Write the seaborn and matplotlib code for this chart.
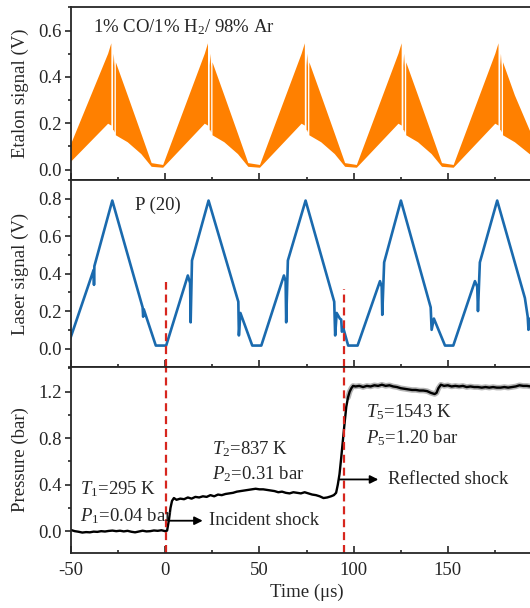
import numpy as np
import seaborn as sns
import matplotlib.pyplot as plt
from matplotlib.ticker import MultipleLocator

# etalon signal envelope (upper / lower edge of the fringe band), nan = white gap
etalon_t = [-50.5, -30.3, -28.6, np.nan, -27.7, -27.3, -26.9, np.nan,
            -26.2, -19.9, -12.7, -7.2, -1.1,
            21.0, 22.7, np.nan, 23.6, 24.0, 24.4, np.nan,
            25.1, 31.4, 38.6, 44.1, 50.3,
            72.4, 74.1, np.nan, 75.0, 75.4, 75.8, np.nan,
            76.5, 82.8, 90.0, 95.5, 101.7,
            123.8, 125.5, np.nan, 126.4, 126.8, 127.2, np.nan,
            127.9, 134.2, 141.4, 146.9, 153.1,
            175.2, 176.9, np.nan, 177.8, 178.2, 178.6, np.nan,
            179.3, 185.6, 194.5]
etalon_hi = [0.10, 0.50, 0.545, np.nan, 0.45, 0.50, 0.44, np.nan,
             0.463, 0.32, 0.155, 0.028, 0.02,
             0.50, 0.545, np.nan, 0.45, 0.50, 0.44, np.nan,
             0.463, 0.32, 0.155, 0.028, 0.02,
             0.50, 0.545, np.nan, 0.45, 0.50, 0.44, np.nan,
             0.463, 0.32, 0.155, 0.028, 0.02,
             0.50, 0.545, np.nan, 0.45, 0.50, 0.44, np.nan,
             0.463, 0.32, 0.155, 0.028, 0.02,
             0.50, 0.545, np.nan, 0.45, 0.50, 0.44, np.nan,
             0.463, 0.32, 0.15]
etalon_lo = [0.03, 0.198, 0.19, np.nan, 0.17, 0.17, 0.16, np.nan,
             0.148, 0.118, 0.067, 0.012, 0.008,
             0.198, 0.19, np.nan, 0.17, 0.17, 0.16, np.nan,
             0.148, 0.118, 0.067, 0.012, 0.008,
             0.198, 0.19, np.nan, 0.17, 0.17, 0.16, np.nan,
             0.148, 0.118, 0.067, 0.012, 0.008,
             0.198, 0.19, np.nan, 0.17, 0.17, 0.16, np.nan,
             0.148, 0.118, 0.067, 0.012, 0.008,
             0.198, 0.19, np.nan, 0.17, 0.17, 0.16, np.nan,
             0.148, 0.118, 0.06]

# laser signal P(20)
laser_t = [-50.5, -38.0, -37.8, -37.6, -28.1, -12.0, -11.7, -11.4, -5.0, 0.5,
           12.0, 13.2, 13.5, 14.2, 23.0, 38.8, 39.1, 39.9, 46.2, 51.0,
           63.0, 63.9, 64.2, 65.1, 74.5, 89.7, 90.2, 91.0, 92.7, 93.4, 93.8, 94.5, 97.1, 102.1,
           114.0, 114.9, 115.2, 116.2, 125.1, 140.9, 141.4, 142.6, 148.5, 152.9,
           164.4, 165.6, 166.0, 167.0, 176.2, 190.9, 192.4, 192.8, 193.6, 195.0]
laser_v = [0.05, 0.42, 0.34, 0.44, 0.79, 0.22, 0.17, 0.21, 0.016, 0.016,
           0.39, 0.35, 0.14, 0.47, 0.79, 0.25, 0.07, 0.19, 0.016, 0.016,
           0.39, 0.36, 0.14, 0.47, 0.79, 0.25, 0.07, 0.19, 0.16, 0.155, 0.09, 0.11, 0.016, 0.016,
           0.36, 0.33, 0.18, 0.46, 0.79, 0.22, 0.10, 0.16, 0.016, 0.016,
           0.36, 0.33, 0.20, 0.46, 0.79, 0.27, 0.17, 0.10, 0.16, 0.14]

# pressure trace
pressure_t = [-50, -48, -46, -44, -42, -40, -38, -36, -34, -32, -30, -28, -26, -24, -22,
              -20, -18, -16, -14, -12, -10, -8, -6, -4, -2, 0, 1,
              2.0, 2.8, 3.6, 4.6, 6, 8, 10, 12, 14, 16, 18, 20, 22, 24, 26, 28, 30,
              32, 34, 36, 38, 40, 42, 44, 46, 48, 50, 52, 54, 56, 58, 60, 62, 64,
              66, 68, 70, 72, 74, 76, 78, 80, 82, 84, 86, 88, 89.5, 90.7, 91.6,
              92.5, 93.4, 94.3, 95.2, 96.1, 97.0, 97.9, 98.8, 99.7,
              101, 103, 105, 107, 109, 111, 113, 115, 117, 119, 121, 123, 125, 127,
              129, 131, 133, 135, 137, 139, 141, 143, 144, 145, 146.3, 148, 150, 152,
              154, 156, 158, 160, 162, 164, 166, 168, 170, 172, 174, 176, 178, 180,
              182, 184, 186, 188, 190, 192, 194]
pressure_p = [0.01, 0.0, -0.005, -0.012, -0.008, -0.01, -0.004, -0.006, 0.0, -0.003, 0.002,
              0.005, 0.0, 0.004, -0.002, 0.003, -0.005, -0.01, -0.003, 0.004, -0.002, 0.0,
              0.006, 0.003, 0.008, 0.0, 0.005,
              0.10, 0.20, 0.26, 0.285, 0.27, 0.28, 0.275, 0.29, 0.28, 0.295, 0.29, 0.30,
              0.295, 0.31, 0.30, 0.315, 0.31, 0.32, 0.325, 0.33, 0.34, 0.345, 0.35, 0.355,
              0.36, 0.365, 0.36, 0.36, 0.355, 0.35, 0.345, 0.335, 0.34, 0.33, 0.325, 0.335,
              0.33, 0.325, 0.335, 0.325, 0.315, 0.31, 0.30, 0.285, 0.29, 0.30, 0.31, 0.33,
              0.40, 0.49, 0.63, 0.78, 0.93, 1.07, 1.15, 1.20, 1.23, 1.25,
              1.245, 1.25, 1.24, 1.25, 1.245, 1.255, 1.25, 1.26, 1.25, 1.255, 1.245, 1.24,
              1.23, 1.225, 1.22, 1.215, 1.215, 1.21, 1.21, 1.205, 1.19, 1.18, 1.19, 1.23,
              1.26, 1.25, 1.255, 1.245, 1.25, 1.245, 1.25, 1.24, 1.245, 1.24, 1.24, 1.235,
              1.24, 1.235, 1.24, 1.235, 1.235, 1.24, 1.235, 1.24, 1.245, 1.255, 1.25,
              1.25, 1.245]

time_ticks = [-50, 0, 50, 100, 150]
shock_t = [0.6, 94.8]        # dashed markers (incident / reflected)
shock_top = [0.353, 0.317]   # where they start in the laser panel

sns.set_style('ticks')
plt.rcParams['font.family'] = ['Liberation Serif', 'DejaVu Serif']
plt.rcParams['mathtext.fontset'] = 'custom'
plt.rcParams['mathtext.rm'] = 'Liberation Serif'
plt.rcParams['mathtext.it'] = 'Liberation Serif:italic'
plt.rcParams['axes.unicode_minus'] = False
plt.rcParams['font.size'] = 13.5

fig = plt.figure(figsize=(5.3, 6.08), dpi=100)
ax1 = fig.add_axes([0.134, 0.7039, 0.8887, 0.2840])
ax2 = fig.add_axes([0.134, 0.3959, 0.8887, 0.3081])
ax3 = fig.add_axes([0.134, 0.0910, 0.8887, 0.3049])

orange = '#ff8000'
blue = '#1a6aae'
red = '#d7261e'

ax1.fill_between(etalon_t, etalon_lo, etalon_hi, color=orange, lw=0)
sns.lineplot(x=laser_t, y=laser_v, ax=ax2, color=blue, lw=1.9, sort=False, estimator=None)

t_arr = np.array(pressure_t)
p_arr = np.array(pressure_p)
hi = t_arr >= 97
sns.lineplot(x=t_arr[hi], y=p_arr[hi], ax=ax3, color='#b4b4b4', lw=4.0, sort=False, estimator=None)
sns.lineplot(x=t_arr, y=p_arr, ax=ax3, color='black', lw=1.7, sort=False, estimator=None)

for t0, top in zip(shock_t, shock_top):
    ax2.vlines(t0, -0.1, top, color=red, lw=1.6, linestyles=(0, (3.6, 2.2)))
    ax3.axvline(t0, color=red, lw=1.6, linestyle=(0, (3.6, 2.2)))

ax1.set_ylim(-0.045, 0.7)
ax2.set_ylim(-0.1, 0.9)
ax3.set_ylim(-0.185, 1.41)
ax1.yaxis.set_major_locator(MultipleLocator(0.2))
ax1.yaxis.set_minor_locator(MultipleLocator(0.1))
ax2.yaxis.set_major_locator(MultipleLocator(0.2))
ax2.yaxis.set_minor_locator(MultipleLocator(0.1))
ax3.yaxis.set_major_locator(MultipleLocator(0.4))
ax3.yaxis.set_minor_locator(MultipleLocator(0.2))

for ax in (ax1, ax2, ax3):
    ax.set_xlim(-50, 200)
    ax.set_xticks(time_ticks)
    ax.xaxis.set_minor_locator(MultipleLocator(25))
    ax.tick_params(axis='x', which='major', direction='in', length=4.8, width=1.2, pad=7)
    ax.tick_params(axis='x', which='minor', direction='in', length=2.0, width=1.2)
    ax.tick_params(axis='y', which='major', direction='out', length=4.0, width=1.2, pad=2.5)
    ax.tick_params(axis='y', which='minor', direction='out', length=2.5, width=1.2)
    for s in ax.spines.values():
        s.set_linewidth(1.3)
    ax.spines['right'].set_visible(False)
    ax.yaxis.set_label_coords(-0.09, 0.5)
    ax.set_xlabel('')

ax1.tick_params(axis='x', labelbottom=False)
ax2.tick_params(axis='x', labelbottom=False)

ax1.set_ylabel('Etalon signal (V)')
ax2.set_ylabel('Laser signal (V)')
ax3.set_ylabel('Pressure (bar)')
ax3.set_xlabel('Time (μs)', labelpad=3)

ax1.text(-38.4, 0.613, '1% CO/1% H$_2$/ 98% Ar', va='center', ha='left')
ax2.text(-16.2, 0.764, 'P (20)', va='center', ha='left')

ax3.text(-45.2, 0.358, '$T_1$=295 K', va='center', ha='left')
ax3.text(-45.2, 0.126, '$P_1$=0.04 bar', va='center', ha='left')
ax3.text(24.9, 0.707, '$T_2$=837 K', va='center', ha='left')
ax3.text(24.9, 0.489, '$P_2$=0.31 bar', va='center', ha='left')
ax3.text(106.8, 1.027, '$T_5$=1543 K', va='center', ha='left')
ax3.text(106.8, 0.803, '$P_5$=1.20 bar', va='center', ha='left')

arrow = dict(arrowstyle='-|>', color='black', lw=1.3, mutation_scale=12, shrinkA=0, shrinkB=0)
ax3.annotate('', xy=(19.9, 0.09), xytext=(1.6, 0.09), arrowprops=arrow)
ax3.text(23.4, 0.09, 'Incident shock', va='center', ha='left')
ax3.annotate('', xy=(113.1, 0.445), xytext=(92.5, 0.445), arrowprops=arrow)
ax3.text(118.5, 0.445, 'Reflected shock', va='center', ha='left')

fig.savefig('out.png', dpi=100)
